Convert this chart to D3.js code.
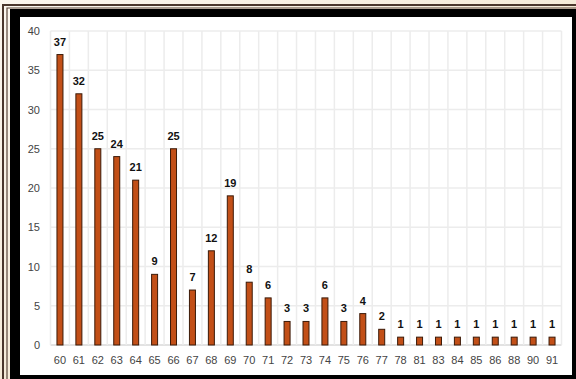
<!DOCTYPE html>
<html>
<head>
<meta charset="utf-8">
<script src="https://cdn.jsdelivr.net/npm/d3@7"></script>
<style>
  html, body { margin: 0; padding: 0; background: #f4e8d2; }
  svg { display: block; font-family: "Liberation Sans", Arial, sans-serif; }
</style>
</head>
<body>
<div id="container"></div>
<script>
var categories = ["60","61","62","63","64","65","66","67","68","69","70","71","72","73","74","75","76","77","78","81","83","84","85","86","88","90","91"];
var values = [37,32,25,24,21,9,25,7,12,19,8,6,3,3,6,3,4,2,1,1,1,1,1,1,1,1,1];
var yTicks = [0,5,10,15,20,25,30,35,40];

var width = 576, height = 379;
var svg = d3.select("#container").append("svg")
    .attr("width", width)
    .attr("height", height);

// frame: beige page, brown double rule, black mat, white card
var bg = svg.append("defs").append("linearGradient")
    .attr("id", "paper").attr("x1", 0).attr("y1", 0).attr("x2", 1).attr("y2", 1);
bg.append("stop").attr("offset", "0%").attr("stop-color", "#fbf6ee");
bg.append("stop").attr("offset", "100%").attr("stop-color", "#f0e0c4");
svg.append("rect").attr("width", width).attr("height", height).attr("fill", "url(#paper)");

svg.append("path")
    .attr("d", "M3,379V5H576")
    .attr("fill", "none").attr("stroke", "#4a362c").attr("stroke-width", 2);
svg.append("path")
    .attr("d", "M7,379V8H576")
    .attr("fill", "none").attr("stroke", "#5a463a").attr("stroke-width", 1.2);
svg.append("rect").attr("x", 10).attr("y", 9).attr("width", 566).attr("height", 370).attr("fill", "#000");
svg.append("rect").attr("x", 20).attr("y", 17).attr("width", 552).attr("height", 358).attr("fill", "#fff");

var margin = {left: 50.5, right: 14.5, top: 31, bottom: 34};
var x = d3.scaleBand()
    .domain(categories)
    .range([margin.left, width - margin.right]);
var y = d3.scaleLinear()
    .domain([0, 40])
    .range([height - margin.bottom, margin.top]);

var g = svg.append("g");

// gridlines
g.selectAll(".hgrid")
    .data(yTicks)
    .enter().append("line")
    .attr("x1", margin.left).attr("x2", width - margin.right)
    .attr("y1", function(d) { return y(d); }).attr("y2", function(d) { return y(d); })
    .attr("stroke", function(d) { return d === 0 ? "#d9d9d9" : "#ececec"; })
    .attr("stroke-width", 1.5);

var bounds = categories.map(function(c) { return x(c); }).concat([x(categories[categories.length - 1]) + x.bandwidth()]);
g.selectAll(".vgrid")
    .data(bounds)
    .enter().append("line")
    .attr("x1", function(d) { return d; }).attr("x2", function(d) { return d; })
    .attr("y1", y(40)).attr("y2", y(0))
    .attr("stroke", "#ececec")
    .attr("stroke-width", 1.5);

// y axis labels
g.selectAll(".ylab")
    .data(yTicks)
    .enter().append("text")
    .attr("x", 40)
    .attr("y", function(d) { return y(d) + 4; })
    .attr("text-anchor", "end")
    .attr("font-size", 11)
    .attr("fill", "#444")
    .text(function(d) { return d; });

// x axis labels
g.selectAll(".xlab")
    .data(categories)
    .enter().append("text")
    .attr("x", function(d) { return x(d) + x.bandwidth() / 2; })
    .attr("y", height - margin.bottom + 19)
    .attr("text-anchor", "middle")
    .attr("font-size", 11)
    .attr("fill", "#444")
    .text(function(d) { return d; });

// bars
var barW = 6;
g.selectAll(".bar")
    .data(values)
    .enter().append("rect")
    .attr("x", function(d, i) { return x(categories[i]) + x.bandwidth() / 2 - barW / 2; })
    .attr("y", function(d) { return y(d); })
    .attr("width", barW)
    .attr("height", function(d) { return y(0) - y(d); })
    .attr("fill", "#c24f17")
    .attr("stroke", "#3b1a08")
    .attr("stroke-width", 1);

// value labels
g.selectAll(".val")
    .data(values)
    .enter().append("text")
    .attr("x", function(d, i) { return x(categories[i]) + x.bandwidth() / 2; })
    .attr("y", function(d) { return y(d) - 9; })
    .attr("text-anchor", "middle")
    .attr("font-size", 11)
    .attr("font-weight", "bold")
    .attr("fill", "#111")
    .text(function(d) { return d; });
</script>
</body>
</html>
